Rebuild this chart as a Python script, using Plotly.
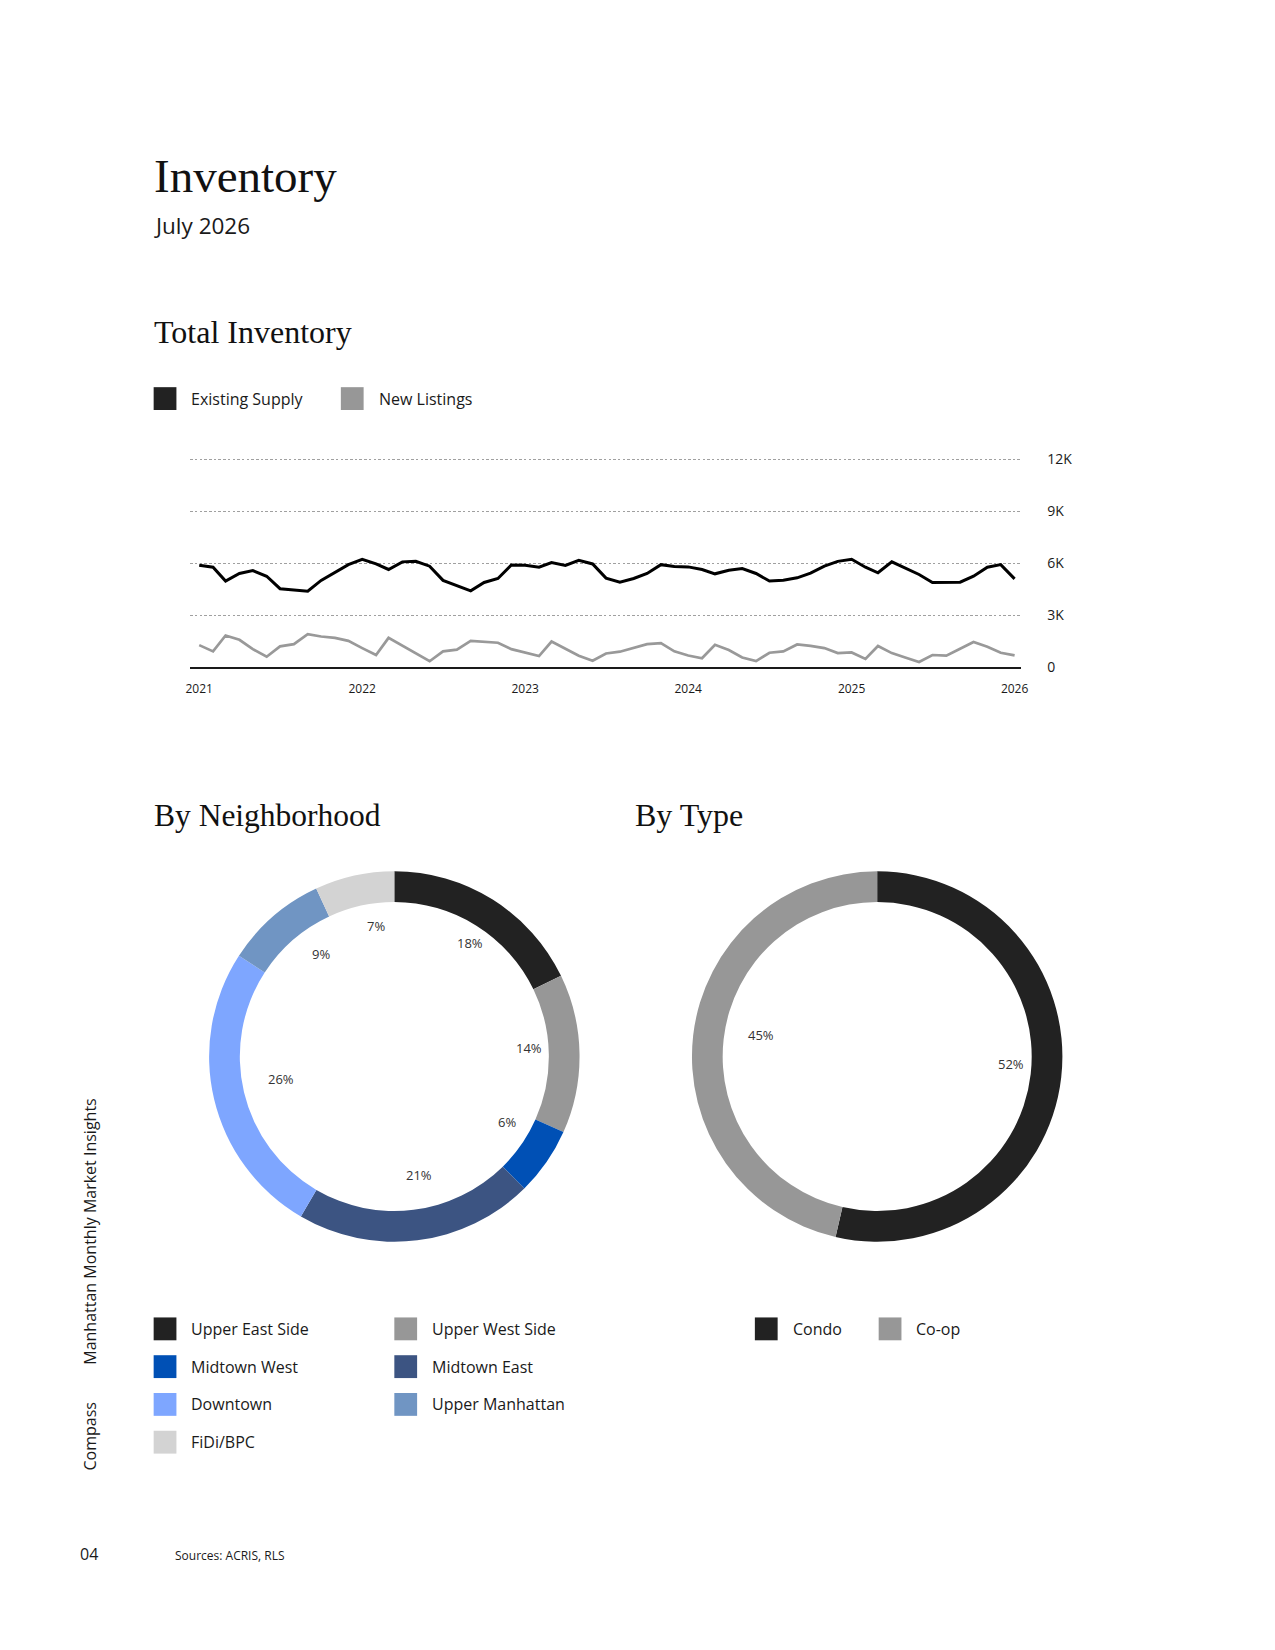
import math
import pandas as pd
import plotly.graph_objects as go

# page is 1275x1650; the browser body keeps its default 8px margin,
# so the figure is sized to fit inside it exactly.
PAGE_W, PAGE_H = 1275, 1650
OFF = 8
W, H = PAGE_W - 2 * OFF, PAGE_H - 2 * OFF

SANS = "'Open Sans', Lato, sans-serif"
SERIF = "'Liberation Serif', 'DejaVu Serif', serif"
INK = "#1a1a1a"

# ---------------- data ----------------
months = pd.date_range("2021-01-01", "2026-01-01", freq="MS")
existing_supply = [5880, 5760, 4960, 5400, 5570, 5240, 4520, 4460, 4380, 5000, 5440, 5910,
                   6220, 5950, 5630, 6070, 6100, 5820, 5000, 4710, 4400, 4880, 5110, 5890,
                   5880, 5760, 6030, 5860, 6160, 5950, 5130, 4900, 5110, 5400, 5910, 5800,
                   5780, 5630, 5380, 5590, 5680, 5400, 4960, 5010, 5150, 5420, 5820, 6100,
                   6220, 5760, 5440, 6070, 5720, 5340, 4880, 4880, 4900, 5240, 5760, 5910,
                   5090]
new_listings = [1260, 900, 1820, 1570, 1030, 590, 1190, 1320, 1890, 1760, 1680, 1510,
                1090, 690, 1680, 1220, 780, 330, 900, 1000, 1510, 1470, 1400, 1030,
                840, 630, 1470, 1030, 650, 360, 780, 880, 1110, 1320, 1380, 900,
                660, 500, 1280, 980, 550, 340, 820, 900, 1300, 1220, 1090, 800,
                840, 460, 1210, 800, 550, 290, 690, 650, 1050, 1440, 1170, 820,
                670]
year_ticks = ["2021-01-01", "2022-01-01", "2023-01-01", "2024-01-01", "2025-01-01", "2026-01-01"]
y_tickvals = [0, 3000, 6000, 9000, 12000]
y_ticktext = ["0", "3K", "6K", "9K", "12K"]

series_names = ["Existing Supply", "New Listings"]
series_colors = ["#000000", "#999999"]
series_swatch = ["#222222", "#979797"]

nb_labels = ["Upper East Side", "Upper West Side", "Midtown West", "Midtown East",
             "Downtown", "Upper Manhattan", "FiDi/BPC"]
nb_values = [18, 14, 6, 21, 26, 9, 7]
nb_colors = ["#222222", "#979797", "#0050b5", "#3c5482", "#7ea6ff", "#7095c3", "#d3d3d3"]

type_labels = ["Condo", "Co-op"]
type_values = [52, 45]
type_colors = ["#222222", "#979797"]


def px(x):
    return (x - OFF) / W


def py(y):
    return 1 - (y - OFF) / H


fig = go.Figure()

# ---------------- line chart ----------------
fig.add_trace(go.Scatter(x=months, y=new_listings, mode="lines", name=series_names[1],
                         line=dict(color=series_colors[1], width=2.7), showlegend=False,
                         hoverinfo="skip"))
fig.add_trace(go.Scatter(x=months, y=existing_supply, mode="lines", name=series_names[0],
                         line=dict(color=series_colors[0], width=3), showlegend=False,
                         hoverinfo="skip"))

y_top_px, y_bot_px, y12_px = 452, 670, 461
fig.update_layout(
    xaxis=dict(domain=[px(187), px(1026)], range=["2020-12-12", "2026-01-16"],
               type="date", tickvals=year_ticks, tickformat="%Y", showgrid=False,
               showline=True, linecolor="#1a1a1a", linewidth=1.8, ticks="",
               ticklabelstandoff=10, tickfont=dict(family=SANS, size=12, color=INK),
               zeroline=False),
    yaxis=dict(domain=[py(y_bot_px), py(y_top_px)],
               range=[0, 12000 * (y_bot_px - y_top_px) / (y_bot_px - y12_px)],
               side="right", tickvals=y_tickvals, ticktext=y_ticktext,
               showgrid=True, griddash="2.5px,2.2px", gridcolor="#a0a0a0", gridwidth=1.2,
               zeroline=False, showline=False, ticks="", ticklabelstandoff=25,
               tickfont=dict(family=SANS, size=14, color=INK)),
)

# ---------------- donuts ----------------
R_OUT = 187
HOLE = 156 / 187
nb_cx, nb_cy = 393, 1062
ty_cx, ty_cy = 880.5, 1062

fig.add_trace(go.Pie(values=nb_values, labels=nb_labels, sort=False, direction="clockwise",
                     rotation=0, hole=HOLE, textinfo="none", hoverinfo="skip",
                     showlegend=False,
                     marker=dict(colors=nb_colors, line=dict(width=0)),
                     domain=dict(x=[px(nb_cx - R_OUT), px(nb_cx + R_OUT)],
                                 y=[py(nb_cy + R_OUT), py(nb_cy - R_OUT)])))
fig.add_trace(go.Pie(values=type_values, labels=type_labels, sort=False, direction="clockwise",
                     rotation=0, hole=HOLE, textinfo="none", hoverinfo="skip",
                     showlegend=False,
                     marker=dict(colors=type_colors, line=dict(width=0)),
                     domain=dict(x=[px(ty_cx - R_OUT), px(ty_cx + R_OUT)],
                                 y=[py(ty_cy + R_OUT), py(ty_cy - R_OUT)])))


def pct_labels(values, cx, cy, r=127, dx=9, dy=-7):
    total = sum(values)
    cum = 0
    for v in values:
        mid = (cum + v / 2) / total * 2 * math.pi
        cum += v
        x = cx + dx + r * math.sin(mid)
        y = cy + dy - r * math.cos(mid)
        fig.add_annotation(x=px(x), y=py(y), xref="paper", yref="paper", text=f"{v}%",
                           showarrow=False, xanchor="center", yanchor="middle",
                           font=dict(family=SANS, size=13, color="#333333"))


pct_labels(nb_values, nb_cx, nb_cy)
pct_labels(type_values, ty_cx, ty_cy)


# ---------------- text helpers ----------------
def text(t, x, y, size, family=SANS, color=INK, xanchor="left", angle=0):
    fig.add_annotation(x=px(x), y=py(y), xref="paper", yref="paper", text=t, showarrow=False,
                       xanchor=xanchor, yanchor="middle", textangle=angle,
                       font=dict(family=family, size=size, color=color))


def swatch(x, y, color, label, text_dx=36):
    fig.add_shape(type="rect", xref="paper", yref="paper", x0=px(x), x1=px(x + 23),
                  y0=py(y + 11.5), y1=py(y - 11.5), fillcolor=color, line=dict(width=0))
    text(label, x + text_dx, y, 16)


text("Inventory", 148, 176, 47, family=SERIF, color="#111")
text("July 2026", 148, 226, 22.5)
text("Total Inventory", 148, 333, 32, family=SERIF, color="#111")
text("By Neighborhood", 148, 819, 31.5, family=SERIF, color="#111")
text("By Type", 634, 819, 32, family=SERIF, color="#111")

# line legend
legend_x = [150, 339]
for i, name in enumerate(series_names):
    swatch(legend_x[i], 400, series_swatch[i], name)

# neighborhood legend: two columns, row-wise
col_x = [150, 393]
row_y = [1336, 1374, 1412, 1450]
for i, (lab, col) in enumerate(zip(nb_labels, nb_colors)):
    swatch(col_x[i % 2], row_y[i // 2], col, lab)

# type legend
type_x = [757, 882]
for i, (lab, col) in enumerate(zip(type_labels, type_colors)):
    swatch(type_x[i], row_y[0], col, lab)

# side + footer
text("Manhattan Monthly Market Insights", 86, 1238, 16, xanchor="center", angle=-90)
text("Compass", 86, 1444, 16, xanchor="center", angle=-90)
text("04", 74, 1563, 16)
text("Sources: ACRIS, RLS", 170, 1564, 12)

fig.update_layout(width=W, height=H, margin=dict(l=0, r=0, t=0, b=0),
                  paper_bgcolor="white", plot_bgcolor="white", showlegend=False)

fig.write_html("out.html", config={"displayModeBar": False})
